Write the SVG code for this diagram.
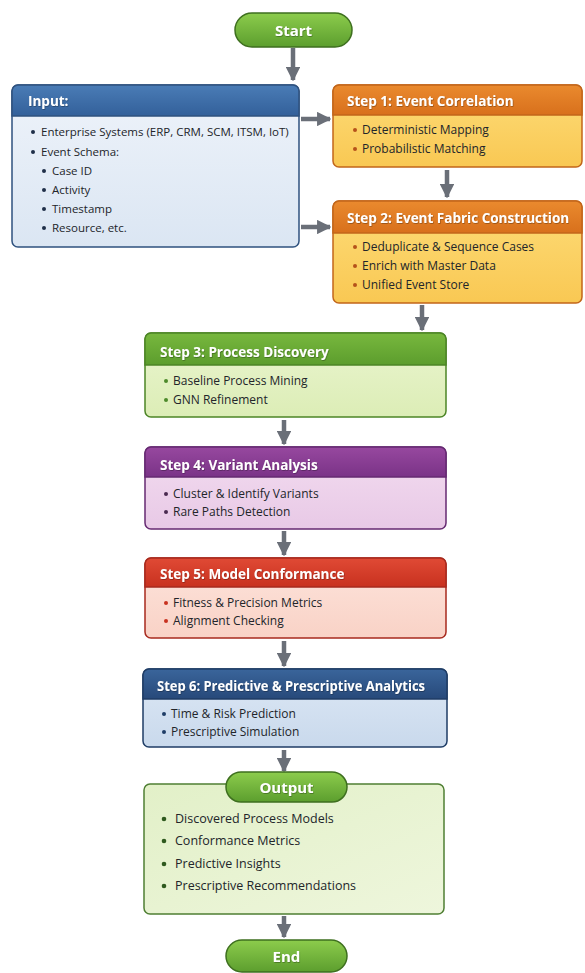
<svg xmlns="http://www.w3.org/2000/svg" width="585" height="973" viewBox="0 0 585 973">
<defs>
<linearGradient id="gPill" x1="0" y1="0" x2="0" y2="1"><stop offset="0" stop-color="#8ccc4c"/><stop offset="1" stop-color="#5c9e2e"/></linearGradient>
<linearGradient id="hBlue" x1="0" y1="0" x2="0" y2="1"><stop offset="0" stop-color="#4a7cb6"/><stop offset="1" stop-color="#33609a"/></linearGradient>
<linearGradient id="bBlue" x1="0" y1="0" x2="0" y2="1"><stop offset="0" stop-color="#eef3fa"/><stop offset="1" stop-color="#dbe6f3"/></linearGradient>
<linearGradient id="hOrange" x1="0" y1="0" x2="0" y2="1"><stop offset="0" stop-color="#ea8a2e"/><stop offset="1" stop-color="#d8701c"/></linearGradient>
<linearGradient id="bOrange" x1="0" y1="0" x2="0" y2="1"><stop offset="0" stop-color="#fddc78"/><stop offset="1" stop-color="#f9c853"/></linearGradient>
<linearGradient id="hGreen" x1="0" y1="0" x2="0" y2="1"><stop offset="0" stop-color="#78b83e"/><stop offset="1" stop-color="#5c9d2d"/></linearGradient>
<linearGradient id="bGreen" x1="0" y1="0" x2="0" y2="1"><stop offset="0" stop-color="#eaf5cf"/><stop offset="1" stop-color="#dcedb6"/></linearGradient>
<linearGradient id="hPurple" x1="0" y1="0" x2="0" y2="1"><stop offset="0" stop-color="#97489f"/><stop offset="1" stop-color="#7a3387"/></linearGradient>
<linearGradient id="bPurple" x1="0" y1="0" x2="0" y2="1"><stop offset="0" stop-color="#f3dcf0"/><stop offset="1" stop-color="#e8c9e6"/></linearGradient>
<linearGradient id="hRed" x1="0" y1="0" x2="0" y2="1"><stop offset="0" stop-color="#e04a35"/><stop offset="1" stop-color="#c8311f"/></linearGradient>
<linearGradient id="bRed" x1="0" y1="0" x2="0" y2="1"><stop offset="0" stop-color="#fde4dc"/><stop offset="1" stop-color="#f9d2c6"/></linearGradient>
<linearGradient id="hNavy" x1="0" y1="0" x2="0" y2="1"><stop offset="0" stop-color="#3a659b"/><stop offset="1" stop-color="#27497a"/></linearGradient>
<linearGradient id="bNavy" x1="0" y1="0" x2="0" y2="1"><stop offset="0" stop-color="#dde8f5"/><stop offset="1" stop-color="#c9d9ec"/></linearGradient>
<linearGradient id="bOut" x1="0" y1="0" x2="1" y2="1"><stop offset="0" stop-color="#e2f0c8"/><stop offset="1" stop-color="#eef6dc"/></linearGradient>
<marker id="ah" viewBox="0 0 10 10" refX="9" refY="5" markerWidth="3.2" markerHeight="3.2" markerUnits="strokeWidth" orient="auto"><path d="M0,0 L10,5 L0,10 z" fill="#6a6f78"/></marker>
<filter id="ts" x="-5%" y="-20%" width="110%" height="140%"><feDropShadow dx="0.6" dy="0.8" stdDeviation="0.5" flood-color="#000000" flood-opacity="0.35"/></filter>
</defs>
<style>
.pillText{font-family:"Open Sans","Liberation Sans",sans-serif;font-size:15px;font-weight:bold;fill:#ffffff;text-anchor:middle}
.hdr{font-family:"Open Sans","Liberation Sans",sans-serif;font-size:13.5px;font-weight:bold;fill:#ffffff}
.itm{font-family:"Open Sans","Liberation Sans",sans-serif;font-size:11.5px;fill:#22252a}
.itm2{font-family:"Open Sans","Liberation Sans",sans-serif;font-size:12px;fill:#22252a}
.itm3{font-family:"Open Sans","Liberation Sans",sans-serif;font-size:12.5px;fill:#22252a}
.conn path{fill:none;stroke:#6a6f78;stroke-width:4.5}
</style>
<rect width="585" height="973" fill="#ffffff"/>

<g class="conn">
<path d="M293,48 V80" marker-end="url(#ah)"/>
<path d="M301,119 H330" marker-end="url(#ah)"/>
<path d="M301,227 H330" marker-end="url(#ah)"/>
<path d="M447,170 V197" marker-end="url(#ah)"/>
<path d="M422,305 V330" marker-end="url(#ah)"/>
<path d="M284,420 V444" marker-end="url(#ah)"/>
<path d="M284,531 V555" marker-end="url(#ah)"/>
<path d="M284,641 V666" marker-end="url(#ah)"/>
<path d="M284,750 V771" marker-end="url(#ah)"/>
<path d="M284,916 V937" marker-end="url(#ah)"/>
</g>

<g id="start">
<rect x="235" y="13" width="117" height="34" rx="17" fill="url(#gPill)" stroke="#3e6f1f" stroke-width="1.5"/>
<text class="pillText" x="293.5" y="35.5" filter="url(#ts)">Start</text>
</g>

<g id="input">
<rect x="12" y="85" width="287" height="162" rx="6" fill="url(#bBlue)" stroke="#2f527f" stroke-width="1.5"/>
<path d="M12,116 V91 a6,6 0 0 1 6,-6 H293 a6,6 0 0 1 6,6 V116 z" fill="url(#hBlue)" stroke="#2f527f" stroke-width="1.5"/>
<text class="hdr" x="28" y="106" filter="url(#ts)">Input:</text>
<g fill="#1f2f48">
<circle cx="33" cy="132" r="2"/><circle cx="33" cy="152" r="2"/>
<circle cx="44" cy="171" r="2"/><circle cx="44" cy="190" r="2"/><circle cx="44" cy="209" r="2"/><circle cx="44" cy="228" r="2"/>
</g>
<g class="itm">
<text x="41" y="136">Enterprise Systems (ERP, CRM, SCM, ITSM, IoT)</text>
<text x="41" y="156">Event Schema:</text>
<text x="52" y="175">Case ID</text>
<text x="52" y="194">Activity</text>
<text x="52" y="213">Timestamp</text>
<text x="52" y="232">Resource, etc.</text>
</g>
</g>

<g id="step1">
<rect x="333" y="85" width="249" height="82" rx="6" fill="url(#bOrange)" stroke="#c2661a" stroke-width="1.5"/>
<path d="M333,115 V91 a6,6 0 0 1 6,-6 H576 a6,6 0 0 1 6,6 V115 z" fill="url(#hOrange)" stroke="#c2661a" stroke-width="1.5"/>
<text class="hdr" x="347" y="105.5" filter="url(#ts)">Step 1: Event Correlation</text>
<g fill="#b5521a"><circle cx="355" cy="130" r="2"/><circle cx="355" cy="149" r="2"/></g>
<g class="itm2">
<text x="362" y="134">Deterministic Mapping</text>
<text x="362" y="153">Probabilistic Matching</text>
</g>
</g>

<g id="step2">
<rect x="333" y="201" width="249" height="102" rx="6" fill="url(#bOrange)" stroke="#c2661a" stroke-width="1.5"/>
<path d="M333,233 V207 a6,6 0 0 1 6,-6 H576 a6,6 0 0 1 6,6 V233 z" fill="url(#hOrange)" stroke="#c2661a" stroke-width="1.5"/>
<text class="hdr" x="347" y="222.5" filter="url(#ts)">Step 2: Event Fabric Construction</text>
<g fill="#b5521a"><circle cx="355" cy="247" r="2"/><circle cx="355" cy="266" r="2"/><circle cx="355" cy="285" r="2"/></g>
<g class="itm2">
<text x="362" y="251">Deduplicate &amp; Sequence Cases</text>
<text x="362" y="270">Enrich with Master Data</text>
<text x="362" y="289">Unified Event Store</text>
</g>
</g>

<g id="step3">
<rect x="145" y="333" width="301" height="84" rx="6" fill="url(#bGreen)" stroke="#4c8526" stroke-width="1.5"/>
<path d="M145,365 V339 a6,6 0 0 1 6,-6 H440 a6,6 0 0 1 6,6 V365 z" fill="url(#hGreen)" stroke="#4c8526" stroke-width="1.5"/>
<text class="hdr" x="160" y="357" filter="url(#ts)">Step 3: Process Discovery</text>
<g fill="#4c8a2a"><circle cx="166" cy="381" r="2"/><circle cx="166" cy="400" r="2"/></g>
<g class="itm2">
<text x="173" y="385">Baseline Process Mining</text>
<text x="173" y="404">GNN Refinement</text>
</g>
</g>

<g id="step4">
<rect x="145" y="447" width="301" height="82" rx="6" fill="url(#bPurple)" stroke="#662a72" stroke-width="1.5"/>
<path d="M145,477 V453 a6,6 0 0 1 6,-6 H440 a6,6 0 0 1 6,6 V477 z" fill="url(#hPurple)" stroke="#662a72" stroke-width="1.5"/>
<text class="hdr" x="160" y="469.5" filter="url(#ts)">Step 4: Variant Analysis</text>
<g fill="#4a2a50"><circle cx="166" cy="494" r="2"/><circle cx="166" cy="512" r="2"/></g>
<g class="itm2">
<text x="173" y="498">Cluster &amp; Identify Variants</text>
<text x="173" y="516">Rare Paths Detection</text>
</g>
</g>

<g id="step5">
<rect x="145" y="558" width="301" height="80" rx="6" fill="url(#bRed)" stroke="#a82a1e" stroke-width="1.5"/>
<path d="M145,587 V564 a6,6 0 0 1 6,-6 H440 a6,6 0 0 1 6,6 V587 z" fill="url(#hRed)" stroke="#a82a1e" stroke-width="1.5"/>
<text class="hdr" x="160" y="579" filter="url(#ts)">Step 5: Model Conformance</text>
<g fill="#c8311f"><circle cx="166" cy="603" r="2"/><circle cx="166" cy="621" r="2"/></g>
<g class="itm2">
<text x="173" y="607">Fitness &amp; Precision Metrics</text>
<text x="173" y="625">Alignment Checking</text>
</g>
</g>

<g id="step6">
<rect x="143" y="669" width="304" height="78" rx="6" fill="url(#bNavy)" stroke="#1f3d66" stroke-width="1.5"/>
<path d="M143,699 V675 a6,6 0 0 1 6,-6 H441 a6,6 0 0 1 6,6 V699 z" fill="url(#hNavy)" stroke="#1f3d66" stroke-width="1.5"/>
<text class="hdr" x="157" y="690.5" textLength="268" lengthAdjust="spacingAndGlyphs" filter="url(#ts)">Step 6: Predictive &amp; Prescriptive Analytics</text>
<g fill="#1f3d66"><circle cx="164" cy="714" r="2"/><circle cx="164" cy="732" r="2"/></g>
<g class="itm2">
<text x="171" y="718">Time &amp; Risk Prediction</text>
<text x="171" y="736">Prescriptive Simulation</text>
</g>
</g>

<g id="output">
<rect x="144" y="784" width="300" height="130" rx="6" fill="url(#bOut)" stroke="#4f7f33" stroke-width="1.5"/>
<rect x="226" y="772" width="121" height="30" rx="15" fill="url(#gPill)" stroke="#3e6f1f" stroke-width="1.5"/>
<text class="pillText" x="286.5" y="792.5" filter="url(#ts)">Output</text>
<g fill="#2f5a1f"><circle cx="164" cy="819" r="2.3"/><circle cx="164" cy="841" r="2.3"/><circle cx="164" cy="864" r="2.3"/><circle cx="164" cy="886" r="2.3"/></g>
<g class="itm3">
<text x="175" y="823">Discovered Process Models</text>
<text x="175" y="845">Conformance Metrics</text>
<text x="175" y="868">Predictive Insights</text>
<text x="175" y="890">Prescriptive Recommendations</text>
</g>
</g>

<g id="end">
<rect x="226" y="940" width="121" height="32" rx="16" fill="url(#gPill)" stroke="#3e6f1f" stroke-width="1.5"/>
<text class="pillText" x="286.5" y="961.5" filter="url(#ts)">End</text>
</g>
</svg>
